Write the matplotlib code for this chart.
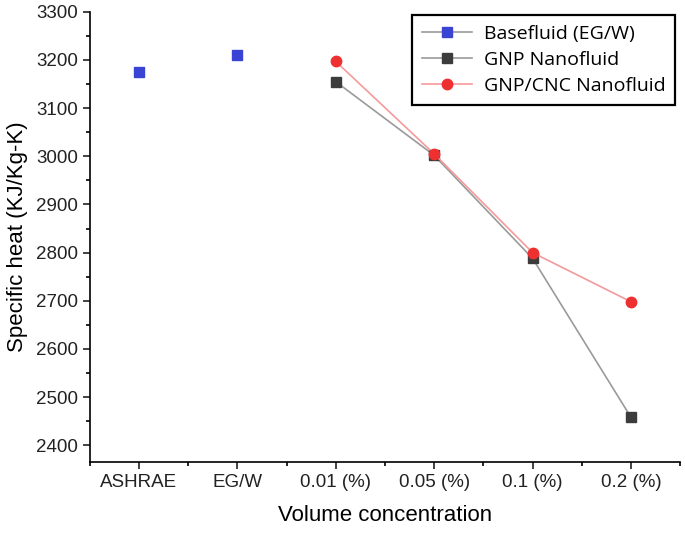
import numpy as np
import matplotlib.pyplot as plt
from matplotlib.ticker import MultipleLocator
from matplotlib.lines import Line2D

categories = ['ASHRAE', 'EG/W', '0.01 (%)', '0.05 (%)', '0.1 (%)', '0.2 (%)']
base_x = [1, 2]
base_y = [3175, 3210]
conc_x = [3, 4, 5, 6]
gnp_y = [3155, 3002, 2788, 2458]
gnp_cnc_y = [3197, 3005, 2800, 2698]

plt.rcParams['font.family'] = ['Liberation Sans', 'DejaVu Sans']

fig = plt.figure(figsize=(6.85, 5.38), dpi=100)
ax = fig.add_axes([0.131, 0.141, 0.862, 0.837])

ax.plot(base_x, base_y, 's', color='#3a44d4', ms=7, label='Basefluid (EG/W)')
ax.plot(conc_x, gnp_y, '-s', color='#9a9a9a', lw=1.2, mfc='#3c3c3c', mec='#3c3c3c',
        ms=7, label='GNP Nanofluid')
ax.plot(conc_x, gnp_cnc_y, '-o', color='#f59a9a', lw=1.2, mfc='#ee3030', mec='#ee3030',
        ms=7.5, label='GNP/CNC Nanofluid')

# legend shows a line through the blue marker too
h, l = ax.get_legend_handles_labels()
h[0] = Line2D([], [], color='#9a9a9a', lw=1.2, marker='s', mfc='#3a44d4', mec='#3a44d4', ms=7)

ax.set_xlim(0.5, 6.5)
ax.set_ylim(2365, 3300)
ax.set_xticks(range(1, 7))
ax.set_xticklabels(categories)
ax.xaxis.set_minor_locator(MultipleLocator(0.5))
ax.yaxis.set_major_locator(MultipleLocator(100))
ax.yaxis.set_minor_locator(MultipleLocator(50))
ax.spines['top'].set_visible(False)
ax.spines['right'].set_visible(False)
ax.spines['left'].set_linewidth(1.2)
ax.spines['bottom'].set_linewidth(1.2)
ax.tick_params(which='major', length=5, width=1.2, labelsize=13.5, colors='#222222')
ax.tick_params(which='minor', length=3, width=1.2)
ax.set_xlabel('Volume concentration', fontsize=16, labelpad=10)
ax.set_ylabel('Specific heat (KJ/Kg-K)', fontsize=16, labelpad=6)

leg = ax.legend(h, l, loc='upper right', bbox_to_anchor=(0.992, 0.993), borderaxespad=0,
                prop={'family': ['Open Sans', 'DejaVu Sans'], 'size': 14},
                fancybox=False, edgecolor='black', framealpha=1, handlelength=2.6,
                borderpad=0.5, labelspacing=0.42, handletextpad=0.6)
leg.get_frame().set_linewidth(1.6)

fig.savefig('out.png', dpi=100)
